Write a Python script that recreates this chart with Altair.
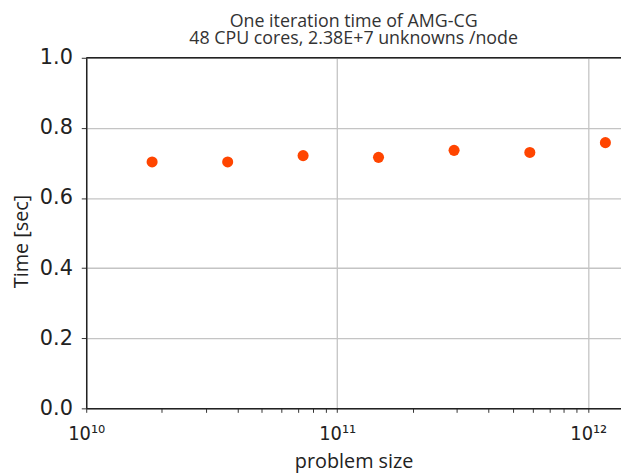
import altair as alt
import pandas as pd

problem_size = [1.83e10, 3.66e10, 7.31e10, 1.46e11, 2.92e11, 5.85e11, 1.17e12]
time_sec = [0.703, 0.703, 0.721, 0.716, 0.736, 0.730, 0.758]
x_tick_values = [m * 10.0 ** k for k in (10, 11) for m in range(1, 10)] + [1e12]
y_tick_values = [0.0, 0.2, 0.4, 0.6, 0.8, 1.0]
title_lines = ["One iteration time of AMG-CG", "48 CPU cores, 2.38E+7 unknowns /node"]

df = pd.DataFrame({"size": problem_size, "time": time_sec})
top_df = pd.DataFrame({"y": [1.0]})

is_major = "abs(log(datum.value)/LN10 - round(log(datum.value)/LN10)) < 1e-6"
exp_expr = "round(log(datum.value)/LN10)"
label_expr = (
    f"({is_major}) ? ({exp_expr} == 10 ? '10¹⁰' : {exp_expr} == 11 ? '10¹¹' : {exp_expr} == 12 ? '10¹²' : '') : ''"
)

LABEL_FONT = "DejaVu Sans"
XLABEL_FONT = "DejaVu Sans Condensed"
TITLE_FONT = "Open Sans"

points = alt.Chart(df).mark_circle(size=125, color="#FF4500", opacity=1).encode(
    x=alt.X(
        "size:Q",
        scale=alt.Scale(type="log", domain=[1e10, 1.35e12], nice=False),
        axis=alt.Axis(
            values=x_tick_values,
            labelExpr=label_expr,
            title="problem size",
            grid=True,
            gridOpacity={"condition": {"test": is_major, "value": 1}, "value": 0},
            gridColor="#c4c4c4",
            gridWidth=1.3,
            tickSize=4,
            tickColor="#333",
            domainColor="#222",
            domainWidth=1.5,
            labelFont=XLABEL_FONT,
            labelFontSize=20,
            labelColor="#222",
            labelPadding=11,
            labelFlush=False,
            labelOverlap=False,
            titleFont=TITLE_FONT,
            titleFontSize=20,
            titleFontWeight="normal",
            titleColor="#222",
            titlePadding=9,
        ),
    ),
    y=alt.Y(
        "time:Q",
        scale=alt.Scale(domain=[0, 1], nice=False),
        axis=alt.Axis(
            values=y_tick_values,
            format=".1f",
            title="Time [sec]",
            grid=True,
            gridColor="#c4c4c4",
            gridWidth=1.3,
            tickSize=5,
            tickColor="#333",
            domainColor="#222",
            domainWidth=1.5,
            labelFont=LABEL_FONT,
            labelFontSize=21,
            labelColor="#222",
            labelPadding=9,
            titleFont=TITLE_FONT,
            titleFontSize=20,
            titleFontWeight="normal",
            titleColor="#222",
            titlePadding=8,
            titleY=185,
        ),
    ),
)

top_line = alt.Chart(top_df).mark_rule(color="#222", strokeWidth=1.5).encode(y="y:Q")

chart = (
    alt.layer(points, top_line)
    .properties(
        width=540,
        height=354,
        autosize=alt.AutoSizeParams(type="none"),
        padding={"left": 79, "top": 48, "right": 0, "bottom": 64},
        title=alt.TitleParams(
            text=title_lines,
            font=TITLE_FONT,
            fontSize=18,
            fontWeight="normal",
            color="#333",
            anchor="middle",
            frame="group",
            offset=-1,
            lineHeight=17,
        ),
    )
    .configure_view(stroke=None)
)

chart.save("out.html", embed_options={"renderer": "svg", "actions": False})
